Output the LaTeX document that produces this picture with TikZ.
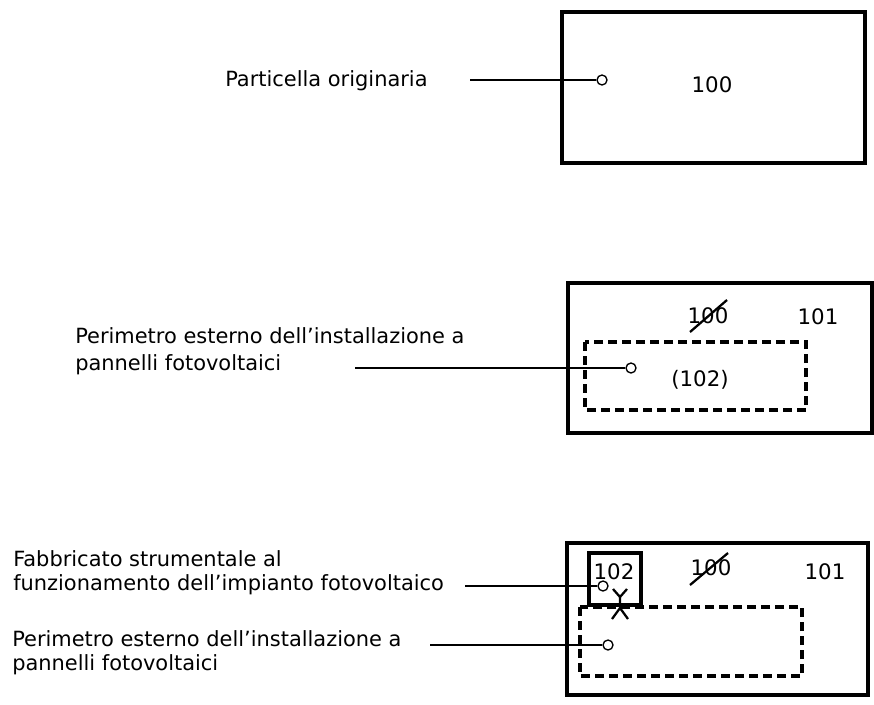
\documentclass[tikz,border=0pt]{standalone}
\usepackage{fontspec}
\setmainfont{DejaVu Sans}
\begin{document}
\begin{tikzpicture}[x=0.75pt,y=-0.75pt,
    lotto/.style={line width=2.3pt},
    perim/.style={line width=2.4pt,dash pattern=on 6.5pt off 4pt},
    pin/.style={circle,draw,line width=1pt,fill=white,inner sep=0pt,minimum size=7.5pt},
    lbl/.style={font=\fontsize{15.7}{20}\selectfont,align=left,anchor=base west,inner sep=0pt},
    lblb/.style={lbl,font=\fontsize{15.7}{17.3}\selectfont},
    num/.style={font=\fontsize{16}{18}\selectfont,inner sep=0pt},
    lead/.style={line width=1.2pt}]
\useasboundingbox (0,0) rectangle (874,704);

% particella originaria
\draw[lotto] (562,12) rectangle (865,163);
\node[num] (n100a) at (712,85) {100};
\node[pin] (p1) at (602,80) {};
\node[lbl] (t1) at (225,86) {Particella originaria};
\coordinate (l1) at (470,80);
\draw[lead] (l1) -- (p1);

% frazionamento
\draw[lotto] (568,283) rectangle (872,433);
\draw[perim] (585,342) rectangle (806,410);
\node[num] (n100b) at (708,316) {100};
\draw[line width=1.7pt] (690,332) -- (727,300);
\node[num] (n101b) at (818,317) {101};
\node[num] (n102b) at (700,380) {(102)};
\node[pin] (p2) at (631,368) {};
\node[lbl] (t2) at (75,370) {Perimetro esterno dell’installazione a\\pannelli fotovoltaici};
\coordinate (l2) at (355,368);
\draw[lead] (l2) -- (p2);

% con fabbricato
\draw[lotto] (567,543) rectangle (868,695);
\draw[perim] (580,607) rectangle (802,676);
\draw[line width=2.4pt] (589,553) rectangle (641,605);
\node[num] (n102c) at (614,572) {102};
\node[num] (n100c) at (711,568) {100};
\draw[line width=1.7pt] (690,585) -- (728,553);
\node[num] (n101c) at (825,572) {101};
\draw[line width=1.7pt] (613,589) -- (620,597) -- (627,589) (620,597) -- (620,608)
      (612,619) -- (620,608) -- (628,619);
\node[pin] (p3) at (603,586) {};
\node[pin] (p4) at (608,645) {};
\node[lblb] (t3) at (13,590) {Fabbricato strumentale al\\funzionamento dell’impianto fotovoltaico};
\node[lblb] (t4) at (12,670) {Perimetro esterno dell’installazione a\\pannelli fotovoltaici};
\coordinate (l3) at (465,586);
\coordinate (l4) at (430,645);
\draw[lead] (l3) -- (p3);
\draw[lead] (l4) -- (p4);

\end{tikzpicture}
\end{document}
